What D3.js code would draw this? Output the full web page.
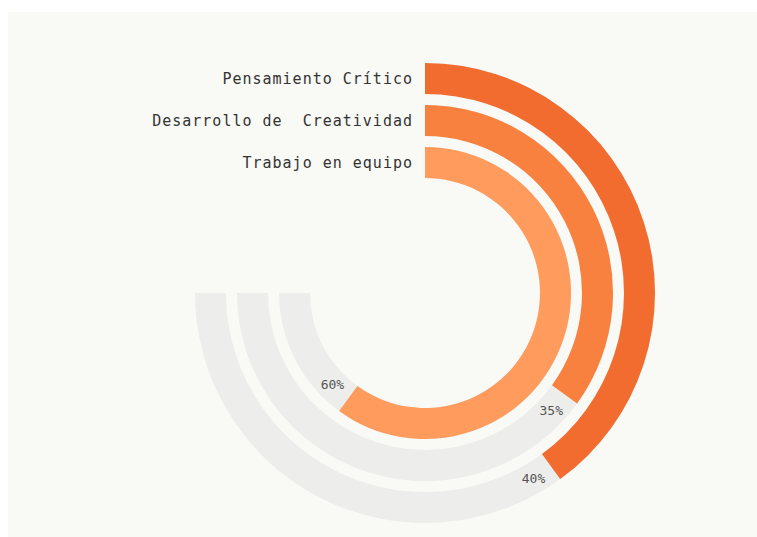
<!DOCTYPE html>
<html>
<head>
<meta charset="utf-8">
<script src="https://cdn.jsdelivr.net/npm/d3@7"></script>
<style>
  html, body { margin: 0; padding: 0; background: #ffffff; }
  svg { display: block; }
</style>
</head>
<body>
<div id="app"></div>
<script>
// chart data
const skills = ['Pensamiento Crítico', 'Desarrollo de  Creatividad', 'Trabajo en equipo']
const values = [40, 35, 60]
const colors = ['#f36c2f', '#f9813f', '#fe9b5d']

const w = 757
const h = 537
const cx = 425
const cy = 293
const band = 31
const step = 42
const outerR = 230
const trackEnd = Math.PI * 1.5

const svg = d3.select('#app')
              .append('svg')
              .attr('width', w)
              .attr('height', h)

// panel
svg.append('rect')
   .attr('x', 8)
   .attr('y', 12)
   .attr('width', w - 8)
   .attr('height', h - 12)
   .attr('fill', '#f9f9f5')

const g = svg.append('g')
             .attr('transform', 'translate(' + cx + ',' + cy + ')')

const angle = d3.scaleLinear().domain([0, 100]).range([0, 2 * Math.PI])

const rows = skills.map((s, i) => ({
  name: s,
  value: values[i],
  color: colors[i],
  outer: outerR - i * step,
  inner: outerR - i * step - band
}))

const arc = d3.arc()

// grey tracks
g.selectAll('path.track')
 .data(rows)
 .enter()
 .append('path')
 .attr('class', 'track')
 .attr('fill', '#ededeb')
 .attr('d', d => arc({innerRadius: d.inner, outerRadius: d.outer, startAngle: 0, endAngle: trackEnd}))

// value arcs
g.selectAll('path.bar')
 .data(rows)
 .enter()
 .append('path')
 .attr('class', 'bar')
 .attr('fill', d => d.color)
 .attr('d', d => arc({innerRadius: d.inner, outerRadius: d.outer, startAngle: 0, endAngle: angle(d.value)}))

// names left of the start
g.selectAll('text.name')
 .data(rows)
 .enter()
 .append('text')
 .attr('class', 'name')
 .attr('x', -12)
 .attr('y', d => -(d.outer + d.inner) / 2)
 .attr('dy', '0.35em')
 .attr('text-anchor', 'end')
 .style('font-family', '"DejaVu Sans Mono", monospace')
 .style('font-size', '15px')
 .style('letter-spacing', '1px')
 .style('white-space', 'pre')
 .attr('fill', '#333333')
 .text(d => d.name)

// percent labels just past arc end
g.selectAll('text.pct')
 .data(rows)
 .enter()
 .append('text')
 .attr('class', 'pct')
 .attr('transform', d => {
   const r = (d.outer + d.inner) / 2
   const a = angle(d.value) + 21 / r
   return 'translate(' + (r * Math.sin(a)) + ',' + (-r * Math.cos(a)) + ')'
 })
 .attr('dy', '0.35em')
 .attr('text-anchor', 'middle')
 .style('font-family', '"DejaVu Sans Mono", monospace')
 .style('font-size', '13px')
 .attr('fill', '#555555')
 .text(d => d.value + '%')
</script>
</body>
</html>
